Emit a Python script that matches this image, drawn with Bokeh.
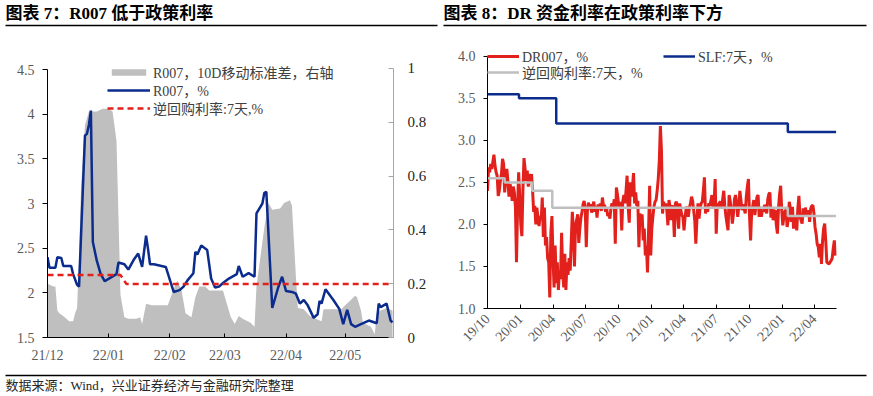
import math
import datetime as dt
import pandas as pd
from bokeh.plotting import figure
from bokeh.layouts import column, row
from bokeh.models import (Range1d, LinearAxis, Legend, LegendItem, MonthsTicker,
                          DatetimeTickFormatter, FixedTicker, CustomJSTickFormatter,
                          PrintfTickFormatter)
from bokeh.core.properties import value
from bokeh.embed import file_html
from bokeh.resources import INLINE

SERIF = "Liberation Serif, Noto Sans CJK SC"

# ---------------- texts ----------------
title7 = "图表 7：R007 低于政策利率"
title8 = "图表 8：DR 资金利率在政策利率下方"
source_note = "数据来源：Wind，兴业证券经济与金融研究院整理"
lbl_std = "R007，10D移动标准差，右轴"
lbl_r007 = "R007，%"
lbl_omo7 = "逆回购利率:7天,%"
lbl_dr007 = "DR007，%"
lbl_slf = "SLF:7天，%"
lbl_omo8 = "逆回购利率:7天，%"

# ---------------- chart 7 data ----------------
r007_dates = ["2021-12-01", "2021-12-02", "2021-12-05", "2021-12-06", "2021-12-08", "2021-12-09",
              "2021-12-13", "2021-12-14", "2021-12-16", "2021-12-17", "2021-12-20", "2021-12-21",
              "2021-12-22", "2021-12-23", "2021-12-24", "2021-12-26", "2021-12-28", "2021-12-30",
              "2022-01-02", "2022-01-05", "2022-01-06", "2022-01-09", "2022-01-11", "2022-01-14",
              "2022-01-16", "2022-01-18", "2022-01-20", "2022-01-21", "2022-01-22", "2022-01-24",
              "2022-01-30", "2022-02-03", "2022-02-06", "2022-02-08", "2022-02-10", "2022-02-13",
              "2022-02-14", "2022-02-15", "2022-02-17", "2022-02-20", "2022-02-22", "2022-02-24",
              "2022-02-26", "2022-02-28", "2022-03-03", "2022-03-07", "2022-03-08", "2022-03-10",
              "2022-03-13", "2022-03-16", "2022-03-17", "2022-03-20", "2022-03-21", "2022-03-22",
              "2022-03-25", "2022-03-28", "2022-03-30", "2022-04-01", "2022-04-04", "2022-04-06",
              "2022-04-08", "2022-04-10", "2022-04-12", "2022-04-15", "2022-04-17", "2022-04-18",
              "2022-04-19", "2022-04-21", "2022-04-25", "2022-04-28", "2022-04-30", "2022-05-02",
              "2022-05-04", "2022-05-06", "2022-05-09", "2022-05-13", "2022-05-17", "2022-05-18",
              "2022-05-19", "2022-05-22", "2022-05-24", "2022-05-25"]
r007 = [2.40, 2.28, 2.28, 2.40, 2.39, 2.30, 2.30, 2.21, 2.09, 2.07, 3.76, 3.78, 3.88, 4.04, 2.57,
        2.36, 2.21, 2.13,
        2.17, 2.21, 2.34, 2.32, 2.26, 2.38, 2.44, 2.29, 2.64, 2.49, 2.32, 2.32, 2.29,
        2.01, 2.03, 2.07, 2.14, 2.22, 2.46, 2.43, 2.53, 2.48, 2.16, 2.06, 2.07, 2.11,
        2.16, 2.21, 2.30, 2.18, 2.22, 2.18, 2.89, 3.00, 3.12, 3.13, 1.83, 2.06, 2.18,
        2.02, 2.01, 1.99, 1.88, 1.92, 1.86, 1.72, 1.76, 1.91, 1.88, 2.04, 1.92, 1.82, 1.65,
        1.81, 1.65, 1.62, 1.65, 1.69, 1.66, 1.88, 1.84, 1.88, 1.69, 1.67]

std_dates = ["2021-12-01", "2021-12-04", "2021-12-05", "2021-12-06", "2021-12-07", "2021-12-09",
             "2021-12-12", "2021-12-14", "2021-12-15", "2021-12-16", "2021-12-17", "2021-12-18",
             "2021-12-20", "2021-12-22", "2021-12-26", "2021-12-29",
             "2022-01-01", "2022-01-03", "2022-01-05", "2022-01-06", "2022-01-07", "2022-01-09",
             "2022-01-11", "2022-01-15", "2022-01-17", "2022-01-18", "2022-01-20", "2022-01-23",
             "2022-01-31",
             "2022-02-02", "2022-02-04", "2022-02-05", "2022-02-07", "2022-02-09", "2022-02-12",
             "2022-02-14", "2022-02-16", "2022-02-19", "2022-02-21", "2022-02-28",
             "2022-03-01", "2022-03-04", "2022-03-06", "2022-03-08", "2022-03-10", "2022-03-14",
             "2022-03-16", "2022-03-17", "2022-03-19", "2022-03-21", "2022-03-23", "2022-03-25",
             "2022-03-29", "2022-03-31",
             "2022-04-03", "2022-04-04", "2022-04-06", "2022-04-07", "2022-04-10", "2022-04-13",
             "2022-04-16", "2022-04-19", "2022-04-20", "2022-04-29",
             "2022-05-01", "2022-05-04", "2022-05-06", "2022-05-07", "2022-05-09", "2022-05-10",
             "2022-05-14", "2022-05-16", "2022-05-17", "2022-05-19", "2022-05-22", "2022-05-25"]
r007_std = [0.20, 0.19, 0.19, 0.10, 0.09, 0.08, 0.06, 0.06, 0.09, 0.11, 0.29, 0.56, 0.79, 0.84,
            0.84, 0.85,
            0.85, 0.84, 0.73, 0.45, 0.16, 0.075, 0.07, 0.07, 0.075, 0.05, 0.125, 0.12, 0.12,
            0.16, 0.20, 0.21, 0.175, 0.09, 0.075, 0.15, 0.19, 0.19, 0.175, 0.175,
            0.15, 0.075, 0.05, 0.08, 0.07, 0.055, 0.04, 0.19, 0.30, 0.41, 0.50, 0.475, 0.48, 0.50,
            0.51, 0.49, 0.225, 0.11, 0.105, 0.08, 0.07, 0.06, 0.105, 0.105,
            0.12, 0.14, 0.155, 0.15, 0.10, 0.055, 0.04, 0.012, 0.09, 0.10, 0.11, 0.10]

omo7_dates = ["2021-12-01", "2022-01-07", "2022-01-10", "2022-05-25"]
omo7 = [2.20, 2.20, 2.10, 2.10]

# ---------------- chart 8 data ----------------
dr007_start = "2019-10-01"   # one reading every 3 days
dr007 = [2.40, 2.68, 2.62, 2.72, 2.66, 2.75, 2.83, 2.70, 2.62, 2.58,
         2.34, 2.40, 2.52, 2.60, 2.78, 2.72, 2.38, 2.55, 2.66, 2.52,
         2.33, 2.48, 2.42, 2.28, 2.45, 2.38, 2.21, 1.55, 2.20, 2.62,
         2.35, 2.00, 1.86, 2.42, 2.79, 2.66, 2.52, 2.64, 2.45, 2.60,
         2.50, 2.60, 2.40, 2.15, 2.22, 2.00, 2.20, 2.08, 1.98, 2.10,
         2.05, 2.32, 1.85, 2.20, 1.75, 1.85, 1.60, 1.55, 1.13, 1.90,
         2.10, 1.60, 1.25, 1.75, 1.30, 1.55, 1.22, 1.45, 1.35, 1.90,
         1.45, 1.25, 1.65, 1.22, 1.55, 1.40, 1.60, 1.45, 1.80, 2.15,
         1.93, 1.50, 2.00, 2.05, 2.12, 1.78, 1.95, 2.08, 2.15, 2.24,
         2.28, 2.18, 1.73, 2.16, 2.26, 2.18, 2.24, 2.14, 2.22, 2.27,
         2.15, 2.22, 2.08, 2.24, 2.18, 2.25, 2.16, 2.32, 2.22,
         2.23, 2.15, 2.19, 2.10, 2.12, 2.07, 2.20, 2.25, 2.19, 2.30,
         1.77, 2.44, 2.36, 2.25, 2.20, 2.27, 1.93, 2.28, 2.35, 2.25,
         2.40, 2.58, 2.20, 2.02, 2.50, 2.33, 2.45, 2.61, 2.25, 2.38,
         2.22, 2.28, 1.73, 2.13, 2.02, 2.12, 1.81, 1.95, 1.63, 1.75,
         1.43, 1.93, 2.46, 1.63, 1.95, 2.09, 2.21, 2.27, 2.29, 2.40,
         2.54, 2.76, 3.17, 2.88, 2.13, 2.27, 2.19, 2.25, 2.17, 1.99,
         2.29, 2.21, 2.05, 2.23, 2.13, 1.85, 2.25, 2.27, 2.13, 1.95,
         2.25, 2.17, 2.11, 2.09, 1.93, 2.09, 2.19, 2.21, 2.09, 2.20,
         2.25, 2.33, 2.28, 2.17, 2.05, 1.77, 2.05, 2.25, 2.07, 2.20,
         2.25, 2.27, 2.40, 2.56, 2.13, 2.20, 2.15, 2.25, 2.22, 2.28,
         2.35, 2.20, 2.25, 2.54, 1.89, 2.25, 2.19, 2.26, 2.27, 2.20, 2.30,
         2.40, 2.22, 2.10, 2.01, 1.93, 2.35, 2.28, 2.17, 2.01, 2.12,
         2.30, 2.35, 2.25, 2.09, 2.21, 2.40, 2.29, 2.17, 2.24, 2.19,
         2.13, 2.33, 2.45, 2.54, 2.10, 1.81, 2.15, 2.22, 2.29, 2.11,
         2.23, 2.33, 2.35, 2.09, 2.21, 2.09, 2.17, 2.15, 2.23, 2.21,
         2.13, 2.30, 2.36, 2.38, 2.08, 2.21, 2.05, 2.15, 2.17, 1.99,
         1.89, 2.20, 2.36, 2.46, 2.17, 1.99, 2.09, 2.16, 2.17, 1.97,
         2.05, 2.27, 2.20, 2.03, 2.21, 1.95, 2.07, 2.10, 1.93, 2.19,
         2.34, 2.09, 2.05, 2.01, 2.19, 2.09, 2.20, 2.13, 2.11, 2.17,
         2.03, 2.19, 2.22, 2.23, 2.13, 1.97, 1.89, 1.77, 1.73, 1.61,
         1.77, 1.53, 1.80, 1.95, 2.01, 1.80, 1.55, 1.54, 1.53, 1.55,
         1.57, 1.60, 1.72, 1.81, 1.63]

slf_dates = ["2019-10-01", "2019-12-28", "2020-04-10", "2022-01-17", "2022-06-01"]
slf = [3.55, 3.50, 3.20, 3.10, 3.10]
omo8_dates = ["2019-10-01", "2019-11-18", "2020-02-03", "2020-03-30", "2022-01-17", "2022-06-01"]
omo8 = [2.55, 2.50, 2.40, 2.20, 2.10, 2.10]

left_ticks = [1.5, 2.0, 2.5, 3.0, 3.5, 4.0, 4.5]
right_ticks = [0, 0.2, 0.4, 0.6, 0.8, 1.0]
dr_ticks = [1.0, 1.5, 2.0, 2.5, 3.0, 3.5, 4.0]

# ---------------- colours ----------------
NAVY = "#0B2C8C"
RED = "#E3211C"
GREY = "#BFBFBF"
LABEL = "#595959"

trim = CustomJSTickFormatter(code="return String(Math.round(tick * 10) / 10);")


def no_align(p):
    if "frame_align" in p.properties():
        p.frame_align = False


def style_axis(ax, color=LABEL, size="14px"):
    ax.major_label_text_font = SERIF
    ax.major_label_text_font_size = size
    ax.major_label_text_color = color
    ax.minor_tick_line_color = None
    ax.axis_line_width = 1


def month_fmt():
    return DatetimeTickFormatter(days="%y/%m", months="%y/%m", years="%y/%m")


def add_legend_row(p, label, renderer, loc, gw):
    lg = Legend(items=[LegendItem(label=label, renderers=[renderer])], location=loc)
    lg.padding = 0
    lg.margin = 0
    lg.spacing = 0
    lg.border_line_color = None
    lg.background_fill_alpha = 0
    lg.label_text_font = SERIF
    lg.label_text_font_size = "14px"
    lg.label_text_color = "#404040"
    lg.glyph_width = gw
    lg.glyph_height = 8
    lg.label_height = 16
    lg.label_standoff = 3
    p.add_layout(lg)


# ---------------- header ----------------
hdr = figure(width=873, height=30, x_range=Range1d(0, 873), y_range=Range1d(30, 0),
             output_backend="svg", toolbar_location=None, min_border=0,
             x_axis_type=None, y_axis_type=None)
hdr.outline_line_color = None
no_align(hdr)
hdr.text(x=[5, 443], y=[13, 13], text=[title7, title8], text_font=value(SERIF),
         text_font_size="17px", text_font_style="bold", text_baseline="middle",
         text_color="#000000")
hdr.segment(x0=[5, 443], y0=[25, 25], x1=[437, 866], y1=[25, 25],
            line_color="#000000", line_width=1.5)

# ---------------- chart 7 ----------------
p1 = figure(width=440, height=340, x_axis_type="datetime",
            x_range=Range1d(dt.datetime(2021, 12, 1), dt.datetime(2022, 5, 25, 12)),
            y_range=Range1d(1.5, 4.657), output_backend="svg", toolbar_location=None,
            min_border_left=47, min_border_right=47, min_border_top=25, min_border_bottom=33)
no_align(p1)
p1.extra_y_ranges = {"std": Range1d(0, 1.0483)}
p1.outline_line_color = None
p1.grid.visible = False

r_std = p1.varea(x=pd.to_datetime(std_dates), y1=0, y2=r007_std, y_range_name="std",
                 fill_color=GREY)
r_r007 = p1.line(pd.to_datetime(r007_dates), r007, line_color=NAVY, line_width=2.5)
r_omo7 = p1.line(pd.to_datetime(omo7_dates), omo7, line_color=RED, line_width=2.5,
                 line_dash="6 4")

yl = p1.yaxis[0]
yl.ticker = FixedTicker(ticks=left_ticks)
yl.formatter = trim
yl.bounds = (1.5, 4.5)
style_axis(yl)
yl.major_tick_out = 5
yl.major_tick_in = 0
yl.major_label_standoff = 8

yr = LinearAxis(y_range_name="std", ticker=FixedTicker(ticks=right_ticks), formatter=trim,
                bounds=(0, 1))
style_axis(yr, color="#262626", size="15px")
yr.axis_line_color = "#A6A6A6"
yr.major_tick_line_color = "#A6A6A6"
yr.major_tick_in = 5
yr.major_tick_out = 0
yr.major_label_standoff = 14
p1.add_layout(yr, "right")

xb = p1.xaxis[0]
xb.ticker = MonthsTicker(months=list(range(0, 12)))
xb.formatter = month_fmt()
style_axis(xb)
xb.major_tick_in = 4
xb.major_tick_out = 0
xb.major_label_standoff = 10

add_legend_row(p1, lbl_std, r_std, (60, 255), 43)
add_legend_row(p1, lbl_r007, r_r007, (60, 237), 43)
add_legend_row(p1, lbl_omo7, r_omo7, (60, 219), 43)

# ---------------- chart 8 ----------------
p2 = figure(width=433, height=340, x_axis_type="datetime",
            x_range=Range1d(dt.datetime(2019, 10, 1), dt.datetime(2022, 6, 2)),
            y_range=Range1d(1.0, 4.2), output_backend="svg", toolbar_location=None,
            min_border_left=47, min_border_right=37, min_border_top=9, min_border_bottom=62)
no_align(p2)
p2.outline_line_color = None
p2.grid.visible = False

dr_dates = pd.date_range(dr007_start, periods=len(dr007), freq="3D")
r_dr = p2.line(dr_dates, dr007, line_color=RED, line_width=3)
r_slf = p2.step(pd.to_datetime(slf_dates), slf, mode="after", line_color=NAVY, line_width=2.5)
r_omo8 = p2.step(pd.to_datetime(omo8_dates), omo8, mode="after", line_color=GREY,
                 line_width=2.5)

y2 = p2.yaxis[0]
y2.ticker = FixedTicker(ticks=dr_ticks)
y2.formatter = PrintfTickFormatter(format="%.1f")
y2.bounds = (1.0, 4.0)
style_axis(y2)
y2.major_tick_out = 4
y2.major_tick_in = 0
y2.major_label_standoff = 8

x2 = p2.xaxis[0]
x2.ticker = MonthsTicker(months=[0, 3, 6, 9])
x2.formatter = month_fmt()
style_axis(x2)
x2.major_tick_in = 4
x2.major_tick_out = 0
x2.major_label_orientation = math.pi / 4
x2.major_label_standoff = 8

add_legend_row(p2, lbl_dr007, r_dr, (0, 242), 32)
add_legend_row(p2, lbl_omo8, r_omo8, (0, 226), 32)
add_legend_row(p2, lbl_slf, r_slf, (176, 242), 32)

# ---------------- footer ----------------
ftr = figure(width=873, height=26, x_range=Range1d(0, 873), y_range=Range1d(26, 0),
             output_backend="svg", toolbar_location=None, min_border=0,
             x_axis_type=None, y_axis_type=None)
ftr.outline_line_color = None
no_align(ftr)
ftr.segment(x0=[5], y0=[5], x1=[866], y1=[5], line_color="#000000", line_width=1.5)
ftr.text(x=[5], y=[15], text=[source_note], text_font=value(SERIF), text_font_size="13px",
         text_baseline="middle", text_color="#262626")

layout = column(hdr, row(p1, p2), ftr)
open("out.html", "w").write(file_html(layout, INLINE))
